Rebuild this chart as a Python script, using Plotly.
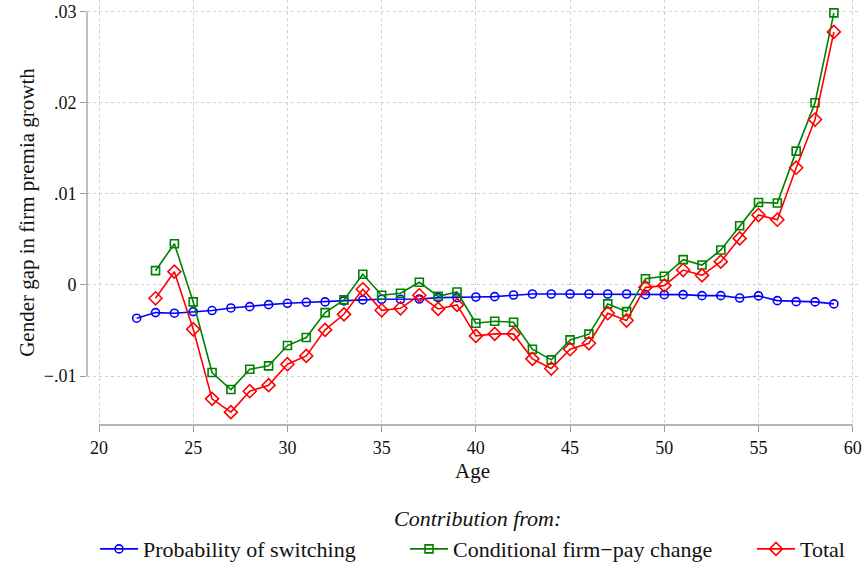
import plotly.graph_objects as go

# Age grid for each decomposition component
ages_switch = list(range(22, 60))
ages_pay = list(range(23, 60))

# Contribution from the probability of switching firms
prob_switching = [
    -0.00365, -0.00303, -0.00310, -0.00292, -0.00281, -0.00252, -0.00238, -0.00216,
    -0.00201, -0.00190, -0.00186, -0.00175, -0.00164, -0.00157, -0.00157, -0.00154,
    -0.00139, -0.00139, -0.00132, -0.00128, -0.00110, -0.00099, -0.00099, -0.00099,
    -0.00099, -0.00099, -0.00099, -0.00106, -0.00106, -0.00106, -0.00117, -0.00117,
    -0.00143, -0.00120, -0.00172, -0.00183, -0.00186, -0.00208,
]

# Contribution from the conditional firm-pay change
cond_pay_change = [
    0.00157, 0.00453, -0.00186, -0.00961, -0.01148, -0.00925, -0.00888, -0.00665,
    -0.00577, -0.00303, -0.00164, 0.00117, -0.00113, -0.00091, 0.00030, -0.00124,
    -0.00077, -0.00420, -0.00398, -0.00409, -0.00705, -0.00822, -0.00603, -0.00540,
    -0.00208, -0.00292, 0.00069, 0.00095, 0.00278, 0.00219, 0.00384, 0.00650,
    0.00906, 0.00899, 0.01469, 0.02000, 0.02987,
]

# Total gender gap in firm premia growth
total_gap = [
    -0.00146, 0.00146, -0.00486, -0.01250, -0.01396, -0.01166, -0.01100, -0.00870,
    -0.00779, -0.00493, -0.00322, -0.00047, -0.00278, -0.00256, -0.00113, -0.00263,
    -0.00219, -0.00559, -0.00537, -0.00537, -0.00811, -0.00917, -0.00705, -0.00640,
    -0.00310, -0.00390, -0.00026, -0.00007, 0.00164, 0.00106, 0.00256, 0.00511,
    0.00768, 0.00716, 0.01287, 0.01816, 0.02778,
]

x_ticks = [20, 25, 30, 35, 40, 45, 50, 55, 60]
y_ticks = [-0.01, 0, 0.01, 0.02, 0.03]
y_tick_text = ["\u2212.01", "0", ".01", ".02", ".03"]

FONT = "Liberation Serif"
AXIS_GRAY = "#9a9a9a"
TEXT = "#111111"

fig = go.Figure()

# Each series gets its own legend box so the entries can be spaced freely
series = [
    (ages_switch, prob_switching, "Probability of switching", "#0000ff", "circle-open", 8, "legend"),
    (ages_pay, cond_pay_change, "Conditional firm\u2212pay change", "#008000", "square-open", 8, "legend2"),
    (ages_pay, total_gap, "Total", "#ff0000", "diamond-open", 10, "legend3"),
]
for xs, ys, name, color, symbol, size, leg in series:
    fig.add_trace(go.Scatter(
        x=xs, y=ys, name=name, mode="lines+markers", legend=leg,
        line=dict(color=color, width=1.6),
        marker=dict(symbol=symbol, size=size, color=color, line=dict(color=color, width=1.6)),
    ))

# Stata-style axis lines that only span the labelled range
fig.add_shape(type="line", xref="paper", yref="y", x0=0, x1=0, y0=-0.01, y1=0.03,
              line=dict(color=AXIS_GRAY, width=1.3))
fig.add_shape(type="line", xref="x", yref="paper", x0=20, x1=60, y0=0, y1=0,
              line=dict(color=AXIS_GRAY, width=1.3))

fig.add_annotation(text="<i>Contribution from:</i>", xref="paper", yref="paper",
                   x=0.507, y=-0.221, xanchor="center", yanchor="middle", showarrow=False,
                   font=dict(family=FONT, size=22, color=TEXT))

legend_style = dict(orientation="h", yanchor="middle", y=-0.292, xanchor="left",
                    font=dict(family=FONT, size=22, color=TEXT),
                    itemwidth=38, bgcolor="rgba(0,0,0,0)", borderwidth=0)

fig.update_layout(
    width=864, height=566,
    margin=dict(l=87, r=6, t=0, b=141, autoexpand=False),
    paper_bgcolor="white", plot_bgcolor="white",
    font=dict(family=FONT, size=18, color=TEXT),
    xaxis=dict(
        range=[19.363, 60.28], tickvals=x_ticks, showgrid=True,
        gridcolor="#cfcfcf", griddash="dot", gridwidth=1,
        zeroline=False, showline=False, ticks="outside", ticklen=6,
        tickcolor=AXIS_GRAY, tickfont=dict(family=FONT, size=18, color=TEXT),
        title=dict(text="Age", font=dict(family=FONT, size=21, color=TEXT), standoff=6),
    ),
    yaxis=dict(
        range=[-0.01537, 0.03128], tickvals=y_ticks, ticktext=y_tick_text,
        showgrid=True, gridcolor="#cfcfcf", griddash="dot", gridwidth=1,
        zeroline=False, showline=False, ticks="outside", ticklen=6,
        tickcolor=AXIS_GRAY, tickfont=dict(family=FONT, size=18, color=TEXT),
        title=dict(text="Gender gap in firm premia growth",
                   font=dict(family=FONT, size=21, color=TEXT), standoff=3),
    ),
    showlegend=True,
    legend=dict(x=0.0104, **legend_style),
    legend2=dict(x=0.4125, **legend_style),
    legend3=dict(x=0.8625, **legend_style),
)

fig.write_html("out.html")
